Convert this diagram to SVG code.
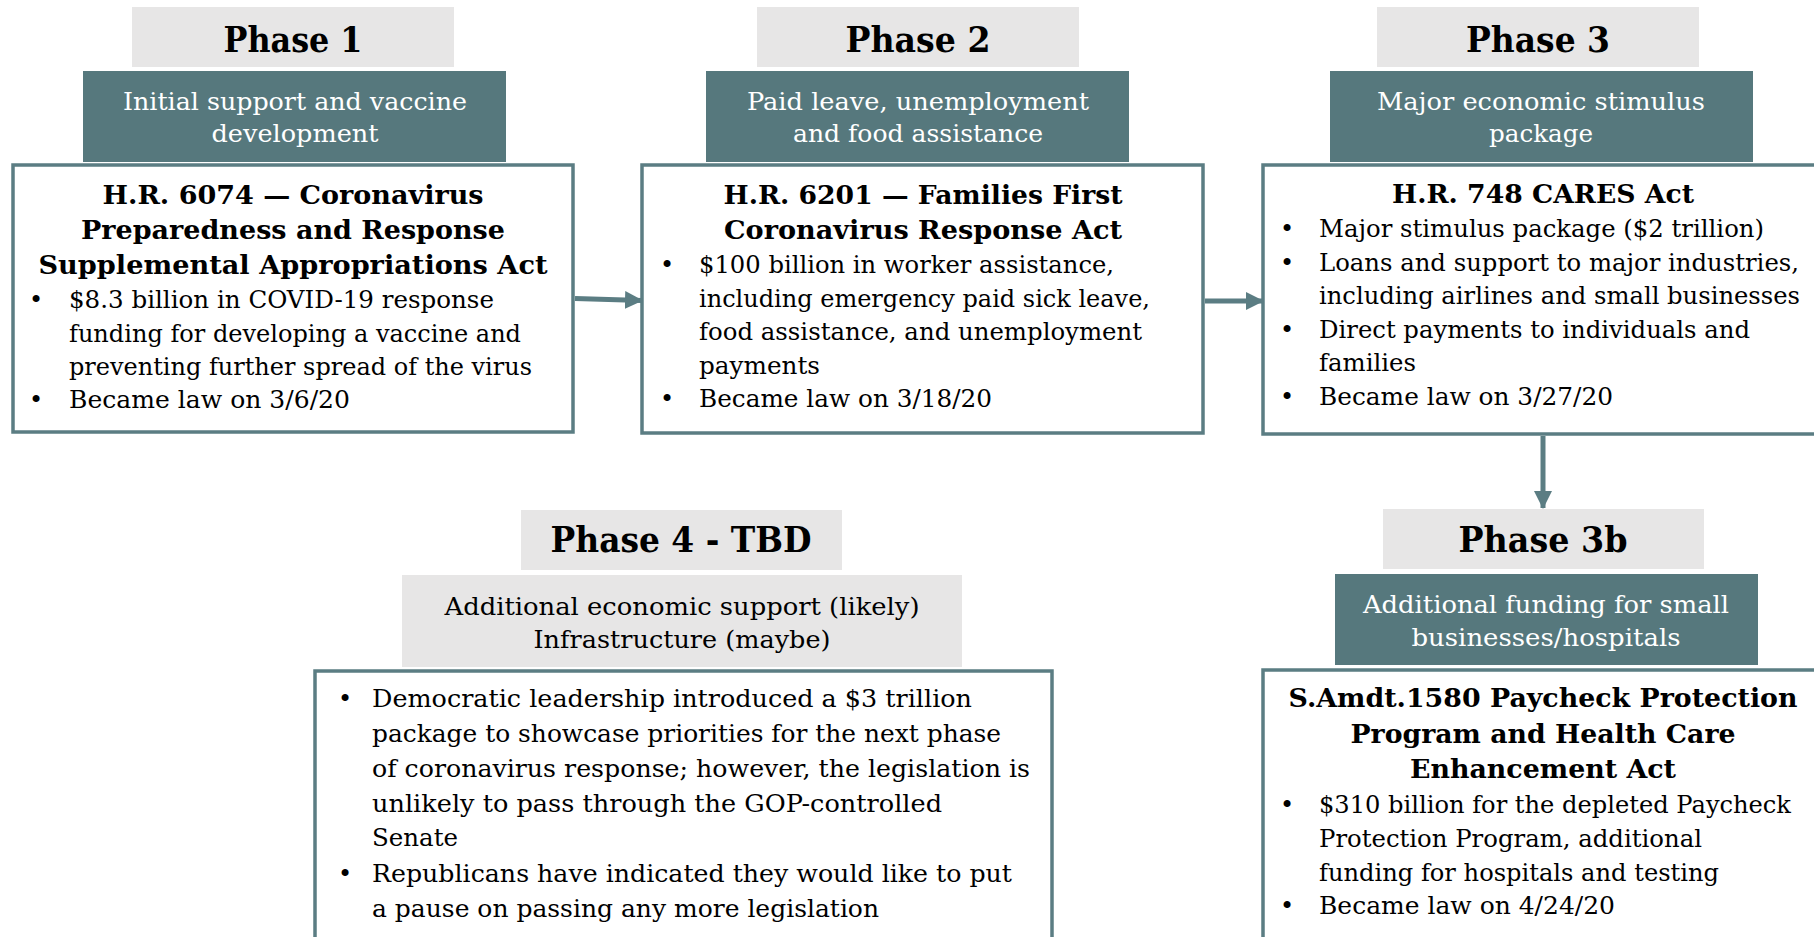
<svg xmlns="http://www.w3.org/2000/svg" width="1814" height="937" viewBox="0 0 1814 937">
<style>
text{font-family:"DejaVu Serif","Liberation Serif",serif;fill:#000}
.t{font-weight:bold;font-size:36px;text-anchor:middle}
.h{font-weight:bold;font-size:26px;text-anchor:middle}
.b{font-size:25px}
.dot{font-size:24px;text-anchor:middle}
.w{font-size:25px;text-anchor:middle;fill:#fff}
.g{font-size:25px;text-anchor:middle}
.gray{fill:#e7e6e6}
.teal{fill:#56787d}
.box{fill:#fff;stroke:#5b7d83;stroke-width:3.5}
.conn{stroke:#5b7d83;stroke-width:5;fill:none}
</style>
<defs>
<marker id="ah" markerUnits="userSpaceOnUse" markerWidth="18" markerHeight="18" viewBox="0 0 18 18" refX="17" refY="9" orient="auto">
<path d="M0,0 L18,9 L0,18 Z" fill="#5b7d83"/>
</marker>
</defs>

<g id="phase1">
<rect class="gray" x="132" y="7" width="322" height="60"/>
<text class="t" x="293" y="52" textLength="139" lengthAdjust="spacingAndGlyphs">Phase 1</text>
<rect class="teal" x="83" y="71" width="423" height="91"/>
<text class="w" x="295" y="110" textLength="344" lengthAdjust="spacingAndGlyphs">Initial support and vaccine</text>
<text class="w" x="295" y="142" textLength="167" lengthAdjust="spacingAndGlyphs">development</text>
<rect class="box" x="13" y="165" width="560" height="267"/>
<text class="h" x="293" y="204" textLength="381" lengthAdjust="spacingAndGlyphs">H.R. 6074 — Coronavirus</text>
<text class="h" x="293" y="239" textLength="424" lengthAdjust="spacingAndGlyphs">Preparedness and Response</text>
<text class="h" x="293" y="274" textLength="509" lengthAdjust="spacingAndGlyphs">Supplemental Appropriations Act</text>
<text class="dot" x="36" y="308">•</text>
<text class="b" x="69" y="308" textLength="425" lengthAdjust="spacingAndGlyphs">$8.3 billion in COVID-19 response</text>
<text class="b" x="69" y="342" textLength="452" lengthAdjust="spacingAndGlyphs">funding for developing a vaccine and</text>
<text class="b" x="69" y="375" textLength="463" lengthAdjust="spacingAndGlyphs">preventing further spread of the virus</text>
<text class="dot" x="36" y="408">•</text>
<text class="b" x="69" y="408" textLength="281" lengthAdjust="spacingAndGlyphs">Became law on 3/6/20</text>
</g>

<g id="phase2">
<rect class="gray" x="757" y="7" width="322" height="60"/>
<text class="t" x="918" y="52" textLength="145" lengthAdjust="spacingAndGlyphs">Phase 2</text>
<rect class="teal" x="706" y="71" width="423" height="91"/>
<text class="w" x="918" y="110" textLength="342" lengthAdjust="spacingAndGlyphs">Paid leave, unemployment</text>
<text class="w" x="918" y="142" textLength="250" lengthAdjust="spacingAndGlyphs">and food assistance</text>
<rect class="box" x="642" y="165" width="561" height="268"/>
<text class="h" x="923" y="204" textLength="399" lengthAdjust="spacingAndGlyphs">H.R. 6201 — Families First</text>
<text class="h" x="923" y="239" textLength="398" lengthAdjust="spacingAndGlyphs">Coronavirus Response Act</text>
<text class="dot" x="667" y="273">•</text>
<text class="b" x="699" y="273" textLength="415" lengthAdjust="spacingAndGlyphs">$100 billion in worker assistance,</text>
<text class="b" x="699" y="306.5" textLength="451" lengthAdjust="spacingAndGlyphs">including emergency paid sick leave,</text>
<text class="b" x="699" y="340" textLength="443" lengthAdjust="spacingAndGlyphs">food assistance, and unemployment</text>
<text class="b" x="699" y="373.5" textLength="121" lengthAdjust="spacingAndGlyphs">payments</text>
<text class="dot" x="667" y="407">•</text>
<text class="b" x="699" y="407" textLength="293" lengthAdjust="spacingAndGlyphs">Became law on 3/18/20</text>
</g>

<g id="phase3">
<rect class="gray" x="1377" y="7" width="322" height="60"/>
<text class="t" x="1538" y="52" textLength="144" lengthAdjust="spacingAndGlyphs">Phase 3</text>
<rect class="teal" x="1330" y="71" width="423" height="91"/>
<text class="w" x="1541" y="110" textLength="328" lengthAdjust="spacingAndGlyphs">Major economic stimulus</text>
<text class="w" x="1541" y="142" textLength="104" lengthAdjust="spacingAndGlyphs">package</text>
<rect class="box" x="1263" y="165" width="600" height="269"/>
<text class="h" x="1543" y="203" textLength="302" lengthAdjust="spacingAndGlyphs">H.R. 748 CARES Act</text>
<text class="dot" x="1287" y="237">•</text>
<text class="b" x="1319" y="237" textLength="445" lengthAdjust="spacingAndGlyphs">Major stimulus package ($2 trillion)</text>
<text class="dot" x="1287" y="271">•</text>
<text class="b" x="1319" y="271" textLength="480" lengthAdjust="spacingAndGlyphs">Loans and support to major industries,</text>
<text class="b" x="1319" y="304" textLength="481" lengthAdjust="spacingAndGlyphs">including airlines and small businesses</text>
<text class="dot" x="1287" y="338">•</text>
<text class="b" x="1319" y="338" textLength="431" lengthAdjust="spacingAndGlyphs">Direct payments to individuals and</text>
<text class="b" x="1319" y="371" textLength="97" lengthAdjust="spacingAndGlyphs">families</text>
<text class="dot" x="1287" y="405">•</text>
<text class="b" x="1319" y="405" textLength="294" lengthAdjust="spacingAndGlyphs">Became law on 3/27/20</text>
</g>

<g id="phase3b">
<rect class="gray" x="1383" y="509" width="321" height="60"/>
<text class="t" x="1543" y="552" textLength="169" lengthAdjust="spacingAndGlyphs">Phase 3b</text>
<rect class="teal" x="1335" y="574" width="423" height="91"/>
<text class="w" x="1546" y="613" textLength="366" lengthAdjust="spacingAndGlyphs">Additional funding for small</text>
<text class="w" x="1546" y="646" textLength="269" lengthAdjust="spacingAndGlyphs">businesses/hospitals</text>
<rect class="box" x="1263" y="670" width="600" height="300"/>
<text class="h" x="1543" y="707" textLength="509" lengthAdjust="spacingAndGlyphs">S.Amdt.1580 Paycheck Protection</text>
<text class="h" x="1543" y="743" textLength="385" lengthAdjust="spacingAndGlyphs">Program and Health Care</text>
<text class="h" x="1543" y="778" textLength="266" lengthAdjust="spacingAndGlyphs">Enhancement Act</text>
<text class="dot" x="1287" y="813">•</text>
<text class="b" x="1319" y="813" textLength="472" lengthAdjust="spacingAndGlyphs">$310 billion for the depleted Paycheck</text>
<text class="b" x="1319" y="847" textLength="383" lengthAdjust="spacingAndGlyphs">Protection Program, additional</text>
<text class="b" x="1319" y="881" textLength="400" lengthAdjust="spacingAndGlyphs">funding for hospitals and testing</text>
<text class="dot" x="1287" y="914">•</text>
<text class="b" x="1319" y="914" textLength="296" lengthAdjust="spacingAndGlyphs">Became law on 4/24/20</text>
</g>

<g id="phase4">
<rect class="gray" x="521" y="510" width="321" height="60"/>
<text class="t" x="681" y="552" textLength="261" lengthAdjust="spacingAndGlyphs">Phase 4 - TBD</text>
<rect class="gray" x="402" y="575" width="560" height="92"/>
<text class="g" x="682" y="615" textLength="475" lengthAdjust="spacingAndGlyphs">Additional economic support (likely)</text>
<text class="g" x="682" y="648" textLength="297" lengthAdjust="spacingAndGlyphs">Infrastructure (maybe)</text>
<rect class="box" x="315" y="671" width="737" height="300"/>
<text class="dot" x="345" y="707">•</text>
<text class="b" x="372" y="707" textLength="600" lengthAdjust="spacingAndGlyphs">Democratic leadership introduced a $3 trillion</text>
<text class="b" x="372" y="742" textLength="629" lengthAdjust="spacingAndGlyphs">package to showcase priorities for the next phase</text>
<text class="b" x="372" y="777" textLength="658" lengthAdjust="spacingAndGlyphs">of coronavirus response; however, the legislation is</text>
<text class="b" x="372" y="812" textLength="570" lengthAdjust="spacingAndGlyphs">unlikely to pass through the GOP-controlled</text>
<text class="b" x="372" y="846" textLength="86" lengthAdjust="spacingAndGlyphs">Senate</text>
<text class="dot" x="345" y="882">•</text>
<text class="b" x="372" y="882" textLength="640" lengthAdjust="spacingAndGlyphs">Republicans have indicated they would like to put</text>
<text class="b" x="372" y="917" textLength="507" lengthAdjust="spacingAndGlyphs">a pause on passing any more legislation</text>
</g>

<g id="connectors">
<line class="conn" x1="575" y1="298.5" x2="642" y2="300.5" marker-end="url(#ah)"/>
<line class="conn" x1="1205" y1="301" x2="1263" y2="301" marker-end="url(#ah)"/>
<line class="conn" x1="1543" y1="436" x2="1543" y2="508" marker-end="url(#ah)"/>
</g>
</svg>
